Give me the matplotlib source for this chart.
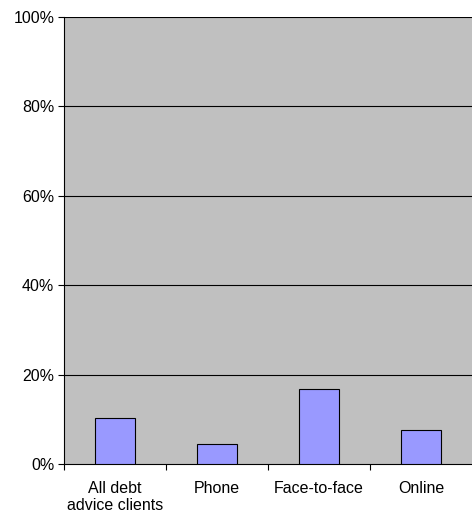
import matplotlib.pyplot as plt
from matplotlib.ticker import FuncFormatter

categories = ["All debt\nadvice clients", "Phone", "Face-to-face", "Online"]
values = [10.3, 4.4, 16.8, 7.6]
yticks = [0, 20, 40, 60, 80, 100]


def main():
    plt.rcParams['font.family'] = ['Liberation Sans', 'DejaVu Sans']
    fig = plt.figure(figsize=(4.72, 5.13), dpi=100)
    ax = fig.add_axes([64 / 472, 49 / 513, 1 - 64 / 472, 447 / 513])
    ax.set_facecolor('#C0C0C0')

    x = list(range(len(categories)))
    ax.bar(x, values, width=0.4, color='#9999FF', edgecolor='black', linewidth=0.8, zorder=3)

    ax.set_xlim(-0.5, len(categories) - 0.5)
    ax.set_ylim(0, 100)
    ax.set_yticks(yticks)
    ax.yaxis.set_major_formatter(FuncFormatter(lambda v, p: f"{int(v)}%"))
    for t in yticks[1:]:
        ax.axhline(t, color='black', linewidth=0.8, zorder=1)

    ax.set_xticks(x)
    ax.set_xticklabels(categories, fontsize=11.5, linespacing=1.2)
    ax.set_xticks([i - 0.5 for i in range(len(categories))], minor=True)
    ax.tick_params(axis='x', which='major', length=0, pad=12)
    ax.tick_params(axis='x', which='minor', length=4, width=0.8, direction='out')
    ax.tick_params(axis='y', labelsize=11.5, length=4, width=0.8, direction='out', pad=3)

    for s in ['top', 'right']:
        ax.spines[s].set_visible(False)
    ax.spines['left'].set_linewidth(0.8)
    ax.spines['bottom'].set_linewidth(0.8)

    fig.savefig('out.png', dpi=100)


if __name__ == "__main__":
    main()
